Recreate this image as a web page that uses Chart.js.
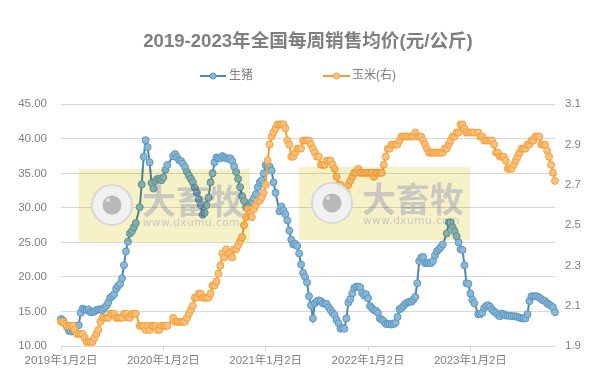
<!DOCTYPE html>
<html>
<head>
<meta charset="utf-8">
<script src="https://cdn.jsdelivr.net/npm/chart.js@4"></script>
<style>
  html, body { margin: 0; padding: 0; background: #fff; }
  #wrap { width: 601px; height: 392px; }
</style>
</head>
<body>
<div id="wrap"><canvas id="priceChart" width="601" height="392"></canvas></div>
<script>
const chartTitle = '2019-2023年全国每周销售均价(元/公斤)';
const seriesNames = ['生猪', '玉米(右)'];
const tickLabels = ['2019年1月2日', '2020年1月2日', '2021年1月2日', '2022年1月2日', '2023年1月2日'];
const tickWeeks = [0, 52, 104, 156, 208];
const leftTicks = [10, 15, 20, 25, 30, 35, 40, 45];
const rightTicks = [1.9, 2.1, 2.3, 2.5, 2.7, 2.9, 3.1];

// weekly prices, null = no quote that week (holidays)
const pigPrice = [
  13.9,13.7,13.2,12.8,12.2,12.1,12.3,12.6,12.9,13.0,
  14.8,15.4,15.3,15.2,15.3,14.9,14.9,15.0,15.2,15.3,
  15.3,15.2,15.5,15.8,16.3,17.0,17.2,17.5,18.3,18.7,
  19.0,19.8,21.7,23.7,25.1,26.3,26.6,27.2,27.8,null,
  30.1,33.4,37.4,39.8,38.8,36.6,33.6,32.8,33.9,34.2,
  34.2,34.0,34.4,35.5,36.2,null,null,37.5,37.8,37.3,
  36.9,36.8,36.4,35.9,35.2,34.7,34.2,33.7,32.9,32.2,
  31.2,30.4,29.0,29.3,30.4,31.5,33.7,35.0,36.6,37.3,
  37.2,37.2,37.5,37.3,37.2,37.1,37.2,36.8,36.0,35.2,
  34.2,33.0,31.7,31.0,30.1,30.1,30.4,30.9,31.4,32.0,
  33.0,33.7,34.0,35.0,36.2,36.3,36.0,35.4,33.7,32.2,
  null,29.5,30.2,29.6,29.1,28.2,26.7,25.4,24.7,24.8,
  24.5,23.4,21.8,20.6,20.0,19.2,17.2,15.9,14.0,16.2,
  16.5,16.6,16.5,16.2,16.1,16.1,15.6,15.2,14.8,14.5,
  13.8,13.3,12.5,12.6,12.5,14.0,16.3,16.8,17.6,18.4,
  18.6,18.6,18.5,17.7,17.3,17.5,16.9,15.8,15.5,15.2,
  15.1,14.8,14.0,13.8,13.6,13.2,13.2,13.2,13.1,13.2,
  13.4,14.2,15.3,15.5,15.8,16.1,16.3,16.4,16.4,16.7,
  17.1,19.1,22.3,22.8,22.9,22.0,22.0,22.0,22.0,22.3,
  23.1,23.7,24.0,24.3,24.7,null,26.3,27.9,27.9,27.2,
  26.6,25.9,25.0,24.0,23.9,21.7,19.1,19.0,17.6,16.7,
  16.2,null,14.6,14.6,14.8,15.5,15.8,15.9,15.7,15.3,
  15.0,14.8,14.5,14.3,14.7,14.6,14.4,14.4,14.4,14.3,
  14.3,14.3,14.2,14.1,14.0,14.0,14.0,14.6,16.5,17.2,
  17.2,17.2,17.2,17.0,16.8,16.6,16.5,16.2,16.0,15.8,
  15.6,14.9
];
const cornPrice = [
  2.02,2.02,2.01,2.00,2.00,2.00,2.00,1.98,1.96,1.96,
  1.96,1.96,1.94,1.92,1.92,1.92,1.92,1.94,1.96,1.98,
  2.02,2.04,2.04,2.04,2.04,2.06,2.06,2.06,2.04,2.04,
  2.04,2.04,2.06,2.06,2.04,2.04,2.06,2.06,2.06,null,
  2.00,2.00,2.00,1.98,2.00,1.98,2.00,2.00,2.00,1.98,
  1.98,2.00,2.00,2.00,2.00,null,null,2.04,2.02,2.02,
  2.02,2.02,2.02,2.02,2.04,2.06,2.08,2.10,2.14,2.14,
  2.16,2.16,2.14,2.14,2.14,2.14,2.16,2.20,2.20,2.22,
  2.26,2.30,2.36,2.34,2.38,2.36,2.36,2.34,2.38,2.38,
  2.40,2.42,2.44,2.50,2.54,2.58,2.56,2.54,2.58,2.60,
  2.62,2.62,2.64,2.66,2.70,2.82,2.90,2.94,2.96,2.98,
  3.00,3.00,3.00,3.00,2.98,2.92,2.90,2.84,2.84,2.86,
  2.88,2.88,2.88,2.92,2.92,2.92,2.92,2.90,2.88,2.86,
  2.84,2.84,2.80,2.80,2.80,2.82,2.82,2.82,2.80,2.78,
  2.74,2.70,2.70,2.68,2.66,2.66,2.70,2.72,2.74,2.76,
  2.76,2.78,2.76,2.76,2.76,2.76,2.76,2.76,2.76,2.74,
  2.76,2.76,2.76,2.76,2.80,2.84,2.88,2.88,2.90,2.90,
  2.90,2.90,2.92,2.94,2.94,2.94,2.94,2.94,2.94,2.94,
  2.96,2.94,2.94,2.94,2.92,2.90,2.88,2.86,2.86,2.86,
  2.86,2.86,2.86,2.86,2.86,2.88,2.88,2.90,2.92,2.94,
  2.94,2.96,2.96,3.00,3.00,2.98,2.96,2.96,2.96,2.96,
  2.96,null,2.96,2.94,2.94,2.92,2.92,2.92,2.92,2.92,
  2.90,2.86,2.86,2.84,2.84,2.84,2.82,2.78,2.78,2.78,
  2.80,2.82,2.84,2.86,2.88,2.88,2.88,2.90,2.90,2.92,
  2.92,2.94,2.94,2.94,2.90,2.90,2.90,2.87,2.84,2.80,
  2.76,2.72
];

const textColor = '#7f7f7f';
const tickFont = { family: '"Liberation Sans", "Noto Sans CJK SC"', size: 11.5 };
const pigStyle = { line: '#4c88ab', fill: '#8bb7d6', border: '#5a97c1' };
const cornStyle = { line: '#eea233', fill: '#fbbf82', border: '#f2a233' };

// one label per week, empty except the start of each year
const weekLabels = pigPrice.map((v, i) => {
  const at = tickWeeks.indexOf(i);
  return at >= 0 ? tickLabels[at] : '';
});

// legend with a line through the marker, which the built-in one can't do
const lineLegend = {
  id: 'lineLegend',
  afterDraw(chart) {
    const ctx = chart.ctx;
    const items = [
      { x: 200, w: 26, textX: 229, name: seriesNames[0], style: pigStyle },
      { x: 323, w: 27, textX: 352, name: seriesNames[1], style: cornStyle }
    ];
    ctx.save();
    ctx.font = '12px "Liberation Sans", "Noto Sans CJK SC"';
    ctx.textBaseline = 'middle';
    items.forEach(it => {
      ctx.strokeStyle = it.style.line;
      ctx.lineWidth = 2;
      ctx.beginPath();
      ctx.moveTo(it.x, 76);
      ctx.lineTo(it.x + it.w, 76);
      ctx.stroke();
      ctx.beginPath();
      ctx.arc(it.x + it.w / 2, 76, 3, 0, Math.PI * 2);
      ctx.fillStyle = it.style.fill;
      ctx.fill();
      ctx.lineWidth = 1;
      ctx.strokeStyle = it.style.border;
      ctx.stroke();
      ctx.fillStyle = textColor;
      ctx.fillText(it.name, it.textX, 76);
    });
    ctx.restore();
  }
};

// the two yellow watermarks sit on top of the lines and tint them
function drawMark(ctx, x, y) {
  ctx.globalCompositeOperation = 'multiply';
  ctx.fillStyle = '#f6f1c6';
  ctx.fillRect(x, y, 171, 73);
  ctx.globalCompositeOperation = 'source-over';
  ctx.beginPath();
  ctx.arc(x + 33, y + 36, 20, 0, Math.PI * 2);
  ctx.fillStyle = '#f1f1f1';
  ctx.fill();
  ctx.lineWidth = 2;
  ctx.strokeStyle = '#d8d8d8';
  ctx.stroke();
  ctx.beginPath();
  ctx.arc(x + 33, y + 36, 9.5, 0, Math.PI * 2);
  ctx.fillStyle = '#b9b9b9';
  ctx.fill();
  ctx.beginPath();
  ctx.arc(x + 29, y + 31, 2, 0, Math.PI * 2);
  ctx.fillStyle = '#dedede';
  ctx.fill();
  ctx.globalCompositeOperation = 'multiply';
  ctx.fillStyle = '#d1d5fa';
  ctx.textBaseline = 'middle';
  ctx.font = 'bold 34px "Noto Sans CJK SC"';
  ctx.fillText('大畜牧', x + 63, y + 32);
  ctx.font = '10.5px "DejaVu Sans"';
  ctx.letterSpacing = '0.5px';
  ctx.fillText('www.dxumu.com', x + 64, y + 54);
  ctx.letterSpacing = '0px';
}
const watermark = {
  id: 'watermark',
  afterDatasetsDraw(chart) {
    const ctx = chart.ctx;
    ctx.save();
    drawMark(ctx, 79, 169);
    drawMark(ctx, 299, 167);
    ctx.restore();
  }
};

const ctx = document.getElementById('priceChart').getContext('2d');
new Chart(ctx, {
  type: 'line',
  data: {
    labels: weekLabels,
    datasets: [
      {
        label: seriesNames[0],
        data: pigPrice,
        yAxisID: 'y',
        order: 2,
        spanGaps: true,
        borderColor: pigStyle.line,
        borderWidth: 2,
        pointRadius: 3.5,
        pointBorderWidth: 1,
        pointBackgroundColor: pigStyle.fill,
        pointBorderColor: pigStyle.border
      },
      {
        label: seriesNames[1],
        data: cornPrice,
        yAxisID: 'y1',
        order: 1,
        spanGaps: true,
        borderColor: cornStyle.line,
        borderWidth: 2,
        pointRadius: 3.5,
        pointBorderWidth: 1,
        pointBackgroundColor: cornStyle.fill,
        pointBorderColor: cornStyle.border
      }
    ]
  },
  options: {
    responsive: false,
    animation: false,
    layout: { padding: 0 },
    plugins: {
      legend: { display: false },
      tooltip: { enabled: false },
      title: {
        display: true,
        fullSize: false,
        text: chartTitle,
        color: textColor,
        font: { family: '"Liberation Sans", "Noto Sans CJK SC"', size: 18.6, weight: 'bold' },
        padding: { top: 31, bottom: 51 }
      }
    },
    scales: {
      x: {
        type: 'category',
        offset: false,
        afterFit(s) { s.height = 46; },
        border: { color: '#d9d9d9' },
        grid: { drawOnChartArea: false, drawTicks: true, tickLength: 5, color: '#d9d9d9' },
        ticks: {
          autoSkip: false,
          maxRotation: 0,
          padding: 3,
          color: textColor,
          font: tickFont,
          callback(value) { return this.getLabelForValue(value) || null; }
        }
      },
      y: {
        position: 'left',
        min: 10,
        max: 45,
        afterFit(s) { s.width = 61; },
        afterBuildTicks(s) { s.ticks = leftTicks.map(v => ({ value: v })); },
        border: { display: false },
        grid: { color: '#d9d9d9', drawTicks: false },
        ticks: { color: textColor, font: tickFont, padding: 14, callback: v => v.toFixed(2) }
      },
      y1: {
        position: 'right',
        min: 1.9,
        max: 3.1,
        afterFit(s) { s.width = 46; },
        afterBuildTicks(s) { s.ticks = rightTicks.map(v => ({ value: v })); },
        border: { display: false },
        grid: { drawOnChartArea: false, drawTicks: false },
        ticks: { color: textColor, font: tickFont, padding: 10, callback: v => v.toFixed(1) }
      }
    }
  },
  plugins: [watermark, lineLegend]
});
</script>
</body>
</html>
